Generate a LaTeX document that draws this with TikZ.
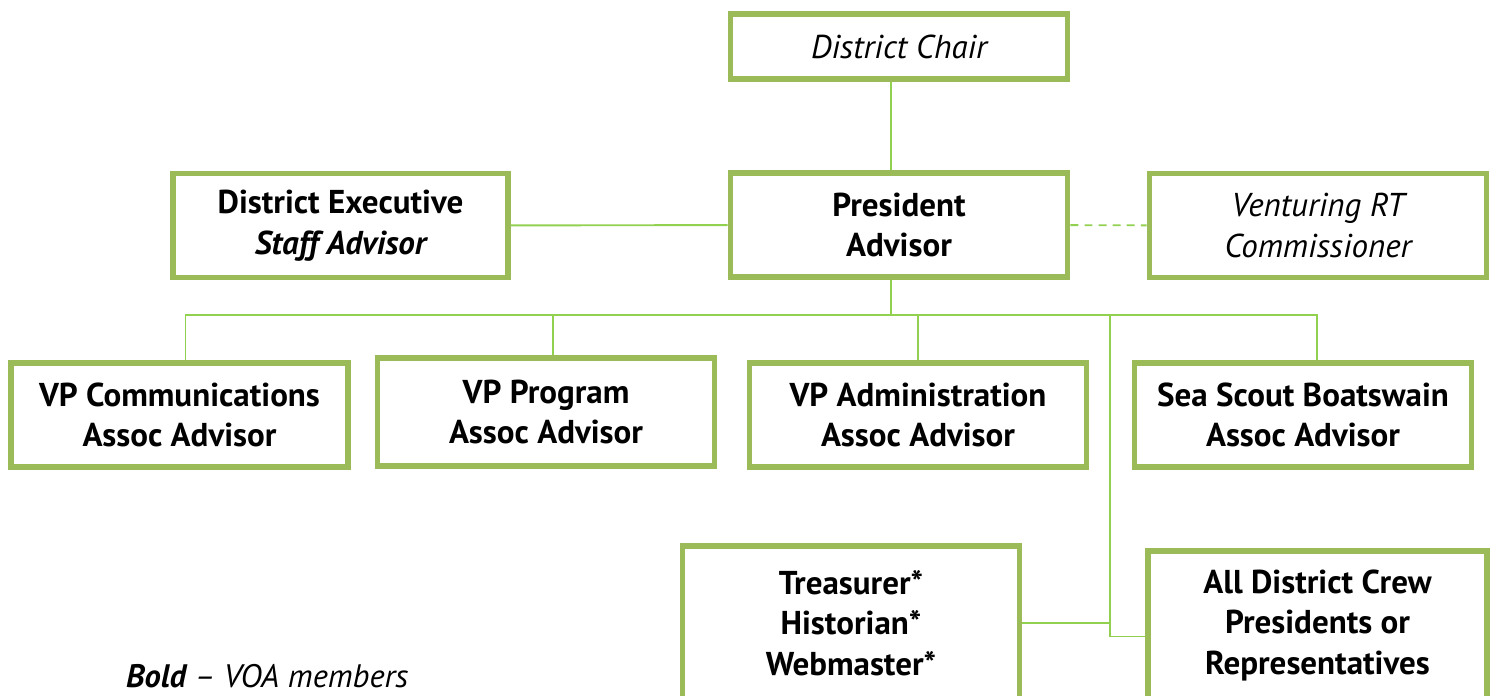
\documentclass[tikz,border=0pt]{standalone}
\usepackage{fontspec}
\setmainfont{PT Sans}
\definecolor{boxgreen}{HTML}{9BBB59}
\definecolor{linegreen}{HTML}{92D050}

\begin{document}
\begin{tikzpicture}[box/.style={draw=boxgreen, line width=3.4pt, fill=white, minimum width=6.74cm, minimum height=2.08cm, align=center, inner sep=2pt, font=\fontsize{18.8}{23}\selectfont},
                    link/.style={draw=linegreen, line width=1.1pt}]

            \useasboundingbox (0,0) rectangle (29.92,-13.92);
            \clip (0,0) rectangle (29.92,-13.92);

            % Nodes
            \node[box, minimum height=1.30cm] (chair) at (17.98,-0.93) {\itshape District Chair};
            \node[box] (pres) at (17.98,-4.50) {\bfseries President\\\bfseries Advisor};
            \node[box, minimum width=6.70cm] (exec) at (6.81,-4.51) {\bfseries District Executive\\\bfseries\itshape Staff Advisor};
            \node[box] (vent) at (26.36,-4.51) {\itshape Venturing RT\\\itshape Commissioner};
            \node[box] (vpcomm) at (3.59,-8.30) {\bfseries VP Communications\\\bfseries Assoc Advisor};
            \node[box, minimum height=2.16cm] (vpprog) at (10.92,-8.24) {\bfseries VP Program\\\bfseries Assoc Advisor};
            \node[box] (vpadmin) at (18.36,-8.30) {\bfseries VP Administration\\\bfseries Assoc Advisor};
            \node[box] (sea) at (26.06,-8.30) {\bfseries Sea Scout Boatswain\\\bfseries Assoc Advisor};
            \node[box, minimum height=3.08cm] (treas) at (17.02,-12.46) {\bfseries Treasurer*\\\bfseries Historian*\\\bfseries Webmaster*};
            \node[box, minimum width=6.78cm, minimum height=2.98cm] (crew) at (26.35,-12.51) {\bfseries All District Crew\\\bfseries Presidents or\\\bfseries Representatives};
            \node[anchor=west, font=\fontsize{18.5}{22}\selectfont] (legend) at (2.40,-13.52) {\bfseries\itshape Bold\mdseries\ -- VOA members};

            % Bus points
            \coordinate (bus) at (17.98,-6.30);
            \coordinate (split) at (22.20,-6.30);

            % Edges
            \draw[link] ([xshift=-0.16cm]chair.south) -- ([xshift=-0.16cm]pres.north);
            \draw[link] (exec) -- (pres);
            \draw[link, dash pattern=on 4.5pt off 3.5pt] (pres) -- (vent);
            \draw[link] ([xshift=-0.16cm]pres.south) |- (bus);
            \draw[link] ([xshift=0.12cm]vpcomm.north) |- (bus);
            \draw[link] ([xshift=0.14cm]vpprog.north) |- (bus);
            \draw[link] (vpadmin.north) |- (bus);
            \draw[link] ([xshift=0.28cm]sea.north) |- (bus);
            \draw[link] (split) |- ([yshift=-0.22cm]crew.west);
            \draw[link] (treas.east) -- (treas.east -| split);
            \end{tikzpicture}
\end{document}
